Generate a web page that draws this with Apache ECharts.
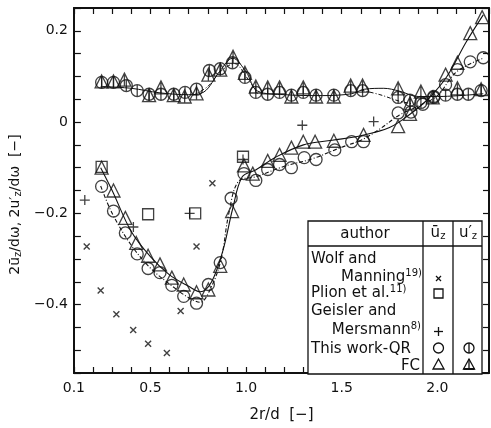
<!DOCTYPE html>
<html>
<head>
<meta charset="utf-8">
<script src="https://cdn.jsdelivr.net/npm/echarts@6/dist/echarts.min.js"></script>
<style>
html, body { margin: 0; padding: 0; background: #fff; }
#chart { width: 491px; height: 428px; }
</style>
</head>
<body>
<div id="chart"></div>
<script>
// values: x = 2r/d, y = 2u/dω
const wolfR = [0.167, 0.240, 0.322, 0.410, 0.488, 0.586, 0.658, 0.741, 0.824];
const wolfU = [-0.273, -0.369, -0.421, -0.456, -0.486, -0.506, -0.414, -0.273, -0.134];

const plionR = [0.245, 0.488, 0.734, 0.984];
const plionU = [-0.098, -0.202, -0.200, -0.076];

const geislerR = [0.157, 0.411, 0.705, 0.984, 1.294, 1.667];
const geislerU = [-0.171, -0.230, -0.200, -0.082, -0.007, 0.001];

// this work, mean velocity
const qrR = [0.245, 0.307, 0.369, 0.431, 0.488, 0.550, 0.612, 0.674, 0.741, 0.803, 0.865, 0.922, 0.989, 1.051, 1.113,
  1.175, 1.237, 1.304, 1.366, 1.464, 1.552, 1.614, 1.795, 1.862, 1.924, 1.981, 2.043, 2.105, 2.172, 2.240];
const qrU = [-0.141, -0.195, -0.243, -0.289, -0.321, -0.330, -0.358, -0.382, -0.397, -0.356, -0.308, -0.167, -0.113, -0.128, -0.104,
  -0.093, -0.100, -0.078, -0.082, -0.061, -0.043, -0.043, 0.020, 0.022, 0.039, 0.054, 0.082, 0.115, 0.132, 0.141];

const fcR = [0.245, 0.307, 0.369, 0.426, 0.488, 0.550, 0.612, 0.674, 0.741, 0.803, 0.865, 0.927, 0.989, 1.035, 1.113,
  1.175, 1.237, 1.299, 1.361, 1.459, 1.614, 1.795, 1.857, 2.043, 2.105, 2.172, 2.234];
const fcU = [-0.100, -0.150, -0.210, -0.265, -0.293, -0.312, -0.341, -0.356, -0.373, -0.367, -0.315, -0.195, -0.095, -0.113, -0.085,
  -0.072, -0.056, -0.043, -0.043, -0.041, -0.028, -0.009, 0.018, 0.104, 0.130, 0.195, 0.230];

// this work, fluctuation
const qrFlucR = [0.245, 0.307, 0.374, 0.431, 0.493, 0.555, 0.622, 0.681, 0.741, 0.808, 0.865, 0.929, 0.994, 1.051, 1.113,
  1.175, 1.237, 1.299, 1.366, 1.459, 1.547, 1.609, 1.795, 1.857, 1.914, 1.981, 2.043, 2.105, 2.162, 2.229];
const qrFlucU = [0.087, 0.087, 0.080, 0.069, 0.061, 0.061, 0.061, 0.065, 0.072, 0.113, 0.117, 0.130, 0.098, 0.065, 0.061,
  0.065, 0.059, 0.065, 0.059, 0.059, 0.069, 0.069, 0.054, 0.048, 0.043, 0.056, 0.059, 0.061, 0.061, 0.069];

const fcFlucR = [0.245, 0.307, 0.364, 0.493, 0.555, 0.622, 0.679, 0.741, 0.803, 0.865, 0.932, 0.994, 1.051, 1.113,
  1.175, 1.237, 1.299, 1.366, 1.459, 1.547, 1.609, 1.795, 1.857, 1.914, 1.976, 2.105, 2.229];
const fcFlucU = [0.089, 0.089, 0.093, 0.059, 0.076, 0.059, 0.056, 0.063, 0.104, 0.115, 0.143, 0.108, 0.078, 0.076,
  0.076, 0.056, 0.076, 0.056, 0.056, 0.080, 0.080, 0.074, 0.041, 0.067, 0.054, 0.074, 0.072];

// fitted curves as drawn in the figure
const fcFitR = [0.24, 0.30, 0.40, 0.50, 0.60, 0.70, 0.76, 0.82, 0.88, 0.93, 0.98, 1.05, 1.15, 1.30, 1.45, 1.60, 1.75, 1.85, 1.95, 2.05, 2.15, 2.24];
const fcFitU = [-0.10, -0.15, -0.24, -0.295, -0.335, -0.36, -0.372, -0.35, -0.28, -0.19, -0.12, -0.105, -0.078, -0.05, -0.04, -0.03, -0.012, 0.015, 0.05, 0.10, 0.175, 0.235];
const qrFitR = [0.24, 0.30, 0.40, 0.50, 0.60, 0.70, 0.76, 0.82, 0.87, 0.91, 0.96, 1.05, 1.20, 1.35, 1.50, 1.60, 1.70, 1.80, 1.90, 2.00, 2.10, 2.24];
const qrFitU = [-0.14, -0.20, -0.27, -0.32, -0.355, -0.385, -0.395, -0.36, -0.30, -0.20, -0.13, -0.12, -0.097, -0.08, -0.055, -0.04, -0.015, 0.015, 0.035, 0.058, 0.11, 0.14];
const flucFitR = [0.24, 0.40, 0.55, 0.70, 0.78, 0.86, 0.93, 1.00, 1.06, 1.20, 1.40, 1.55, 1.62, 1.72, 1.80, 1.90, 2.00, 2.24];
const flucFitU = [0.078, 0.074, 0.064, 0.060, 0.066, 0.110, 0.140, 0.110, 0.068, 0.060, 0.058, 0.062, 0.072, 0.074, 0.068, 0.056, 0.056, 0.062];
const qrFlucFitR = [0.72, 0.80, 0.87, 0.94, 1.00, 1.06];
const qrFlucFitU = [0.058, 0.078, 0.112, 0.128, 0.100, 0.062];
const qrFlucFit2R = [1.60, 1.70, 1.80, 1.87];
const qrFlucFit2U = [0.070, 0.060, 0.046, 0.040];

const xTickLabels = ['0.1', '0.5', '1.0', '1.5', '2.0'];
const yTickLabels = ['0.2', '0', '-0.2', '-0.4'];

const ink = '#111';
const font = '"DejaVu Sans", sans-serif';
const zip = (a, b) => a.map((v, i) => [v, b[i]]);

const phiPath = 'path://M0,10A10,10,0,1,1,20,10A10,10,0,1,1,0,10ZM10,0L10,20';
const triBarPath = 'path://M10,0L20,18L0,18ZM10,0L10,18';
const crossPath = 'path://M0,0L10,10M10,0L0,10';
const plusPath = 'path://M5,0L5,10M0,5L10,5';

function marks(name, r, u, symbol, size, bw) {
  return {
    name, type: 'scatter', data: zip(r, u), symbol, symbolSize: size, silent: true, z: 5,
    itemStyle: { color: 'transparent', borderColor: ink, borderWidth: bw || 1.3 }
  };
}
function curve(r, u, type, w) {
  return {
    type: 'line', data: zip(r, u), showSymbol: false, smooth: 0.35, silent: true, z: 3,
    lineStyle: { color: ink, width: w || 1.1, type: type }
  };
}

const chart = echarts.init(document.getElementById('chart'));

const tickStyle = { inside: true, length: 6, lineStyle: { color: ink, width: 1.2 } };
const lineStyle = { show: true, onZero: false, lineStyle: { color: ink, width: 2 } };

const legendRows = [
  { text: 'Wolf and', x: 311, y: 259, align: 'left' },
  { text: 'Manning{sup|19)}', x: 422, y: 277, align: 'right' },
  { text: 'Plion et al.{sup|11)}', x: 311, y: 293, align: 'left' },
  { text: 'Geisler and', x: 311, y: 311, align: 'left' },
  { text: 'Mersmann{sup|8)}', x: 421, y: 330, align: 'right' },
  { text: 'This work-QR', x: 311, y: 349, align: 'left' },
  { text: 'FC', x: 420, y: 366, align: 'right' }
];
const richText = {
  sup: { fontSize: 10, fontFamily: font, fill: ink, color: ink, padding: [0, 0, 8, 0] },
  sub: { fontSize: 10, fontFamily: font, fill: ink, color: ink, padding: [7, 0, 0, 0] }
};
function label(text, x, y, align, size) {
  return {
    type: 'text', x, y, z: 101,
    style: {
      text, fill: ink, font: (size || 15) + 'px ' + font,
      textAlign: align, textVerticalAlign: 'middle',
      rich: richText
    }
  };
}
const st = { fill: 'none', stroke: ink, lineWidth: 1.3 };

const graphic = [
  { type: 'rect', z: 100, shape: { x: 308, y: 221, width: 174, height: 153 }, style: { fill: '#fff', stroke: ink, lineWidth: 1.3 } },
  { type: 'line', z: 101, shape: { x1: 308, y1: 246, x2: 482, y2: 246 }, style: st },
  { type: 'line', z: 101, shape: { x1: 423, y1: 221, x2: 423, y2: 374 }, style: st },
  { type: 'line', z: 101, shape: { x1: 453, y1: 221, x2: 453, y2: 374 }, style: st },
  label('author', 365, 234, 'center'),
  label('ū{sub|z}', 438, 233, 'center'),
  label('u′{sub|z}', 468, 233, 'center'),
  ...legendRows.map(r => label(r.text, r.x, r.y, r.align)),
  // legend symbols
  { type: 'line', z: 101, shape: { x1: 436, y1: 276, x2: 441, y2: 281 }, style: st },
  { type: 'line', z: 101, shape: { x1: 441, y1: 276, x2: 436, y2: 281 }, style: st },
  { type: 'rect', z: 101, shape: { x: 434, y: 289, width: 9, height: 9 }, style: st },
  { type: 'line', z: 101, shape: { x1: 438.5, y1: 327, x2: 438.5, y2: 336 }, style: st },
  { type: 'line', z: 101, shape: { x1: 434, y1: 331.5, x2: 443, y2: 331.5 }, style: st },
  { type: 'circle', z: 101, shape: { cx: 438.5, cy: 348, r: 5 }, style: st },
  { type: 'polygon', z: 101, shape: { points: [[438.5, 359], [444, 369], [433, 369]] }, style: st },
  { type: 'circle', z: 101, shape: { cx: 469, cy: 348, r: 5 }, style: st },
  { type: 'line', z: 101, shape: { x1: 469, y1: 343, x2: 469, y2: 353 }, style: st },
  { type: 'polygon', z: 101, shape: { points: [[469, 359], [474.5, 369], [463.5, 369]] }, style: st },
  { type: 'line', z: 101, shape: { x1: 469, y1: 359, x2: 469, y2: 369 }, style: st },
  { type: 'line', z: 101, shape: { x1: 463.5, y1: 369, x2: 474.5, y2: 369 }, style: { stroke: ink, lineWidth: 2 } }
];

const xLabel = v => {
  const s = v.toFixed(1);
  return Math.abs(v * 10 - Math.round(v * 10)) < 1e-6 && xTickLabels.includes(s) ? s : '';
};
const yLabel = v => {
  const k = Math.round(v * 100);
  if (Math.abs(v * 100 - k) > 1e-6) return '';
  const s = k === 0 ? '0' : (k / 100).toFixed(1);
  return yTickLabels.includes(s) ? s.replace('-', '\u2212') : '';
};

const option = {
  animation: false,
  backgroundColor: '#fff',
  textStyle: { fontFamily: font, color: ink },
  grid: { left: 69, right: 2, top: 8, bottom: 50, containLabel: false },
  xAxis: [
    {
      type: 'value', position: 'bottom', min: 0.1, max: 2.27, interval: 0.1,
      axisLine: lineStyle, axisTick: tickStyle, splitLine: { show: false },
      axisLabel: { formatter: xLabel, color: ink, fontSize: 14, fontFamily: font, margin: 8, showMaxLabel: false },
      name: '2r/d  [\u2212]', nameLocation: 'middle', nameGap: 35,
      nameTextStyle: { fontSize: 15, fontFamily: font, color: ink }
    },
    {
      type: 'value', position: 'top', min: 0.1, max: 2.27, interval: 0.1,
      axisLine: lineStyle, axisTick: tickStyle, splitLine: { show: false }, axisLabel: { show: false }
    }
  ],
  yAxis: [
    {
      type: 'value', position: 'left', min: -0.55, max: 0.25, interval: 0.05,
      axisLine: lineStyle, axisTick: Object.assign({}, tickStyle, { length: 7 }), splitLine: { show: false },
      axisLabel: { formatter: yLabel, color: ink, fontSize: 14, fontFamily: font, margin: 6 },
      name: '2ū{s|z}/dω, 2u′{s|z}/dω  [\u2212]', nameLocation: 'middle', nameRotate: 90, nameGap: 40,
      nameTextStyle: {
        fontSize: 14, fontFamily: font, color: ink, padding: [0, 28, 0, 0],
        rich: { s: { fontSize: 10, fontFamily: font, color: ink, padding: [6, 0, 0, 0] } }
      }
    },
    {
      type: 'value', position: 'right', min: -0.55, max: 0.25, interval: 0.05,
      axisLine: lineStyle, axisTick: tickStyle, splitLine: { show: false }, axisLabel: { show: false }
    }
  ],
  series: [
    curve(fcFitR, fcFitU, 'solid', 1.1),
    curve(qrFitR, qrFitU, [4, 2, 1, 2], 1.1),
    curve(flucFitR, flucFitU, 'solid', 1.0),
    curve(qrFlucFitR, qrFlucFitU, [4, 2, 1, 2], 1.0),
    curve(qrFlucFit2R, qrFlucFit2U, [4, 2, 1, 2], 1.0),
    marks('Wolf and Manning', wolfR, wolfU, crossPath, 6, 1.4),
    marks('Plion et al.', plionR, plionU, 'rect', 11),
    marks('Geisler and Mersmann', geislerR, geislerU, plusPath, 10, 1.3),
    marks('QR mean', qrR, qrU, 'circle', 12),
    marks('FC mean', fcR, fcU, 'triangle', 13),
    marks('QR fluctuation', qrFlucR, qrFlucU, phiPath, 12),
    marks('FC fluctuation', fcFlucR, fcFlucU, triBarPath, 13)
  ],
  graphic: graphic
};

chart.setOption(option);
</script>
</body>
</html>
